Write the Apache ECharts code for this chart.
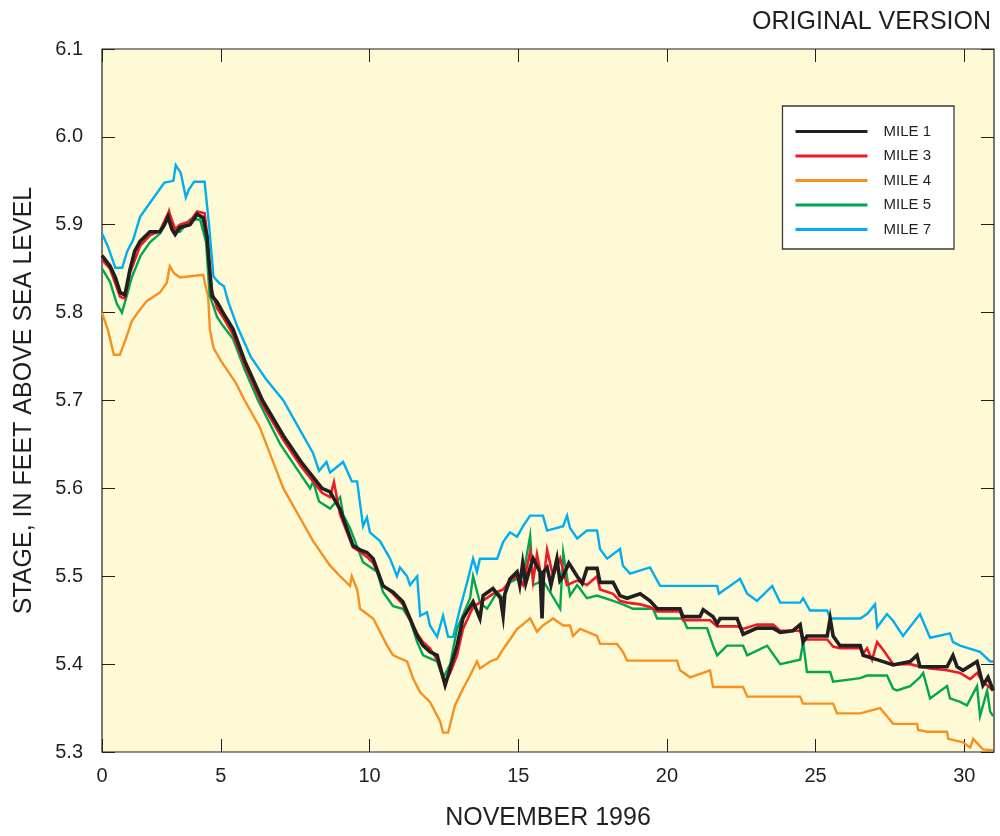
<!DOCTYPE html>
<html>
<head>
<meta charset="utf-8">
<script src="https://cdn.jsdelivr.net/npm/echarts@6/dist/echarts.min.js"></script>
<style>html,body{margin:0;padding:0;background:#fff;}#c{width:1000px;height:836px;}</style>
</head>
<body>
<div id="c"></div>
<script>
// x = day of November 1996 (left edge labelled "0"), y = stage in feet
var xTickValues = [1, 5, 10, 15, 20, 25, 30];
var xTickLabels = ['0', '5', '10', '15', '20', '25', '30'];
var seriesNames = ['MILE 1', 'MILE 3', 'MILE 4', 'MILE 5', 'MILE 7'];

var mile1 = [[1.00,5.865],[1.27,5.853],[1.45,5.84],[1.61,5.823],[1.77,5.82],[1.94,5.849],[2.10,5.870],[2.28,5.881],[2.61,5.892],[2.95,5.892],[3.10,5.900],[3.22,5.909],[3.35,5.895],[3.46,5.889],[3.62,5.897],[3.96,5.900],[4.20,5.912],[4.40,5.908],[4.53,5.887],[4.62,5.850],[4.70,5.819],[4.87,5.812],[5.07,5.800],[5.41,5.781],[5.80,5.745],[6.40,5.700],[7.10,5.660],[7.70,5.630],[8.40,5.600],[8.67,5.596],[9.01,5.576],[9.24,5.554],[9.44,5.535],[9.68,5.530],[9.91,5.527],[10.12,5.520],[10.45,5.489],[10.79,5.482],[11.12,5.471],[11.36,5.452],[11.60,5.432],[11.80,5.421],[12.03,5.414],[12.27,5.410],[12.54,5.376],[12.71,5.395],[12.94,5.421],[13.14,5.452],[13.48,5.471],[13.71,5.452],[13.82,5.478],[14.15,5.486],[14.40,5.475],[14.49,5.455],[14.55,5.480],[14.72,5.497],[14.96,5.505],[15.05,5.490],[15.15,5.515],[15.25,5.492],[15.40,5.510],[15.50,5.520],[15.73,5.505],[15.80,5.452],[15.85,5.505],[15.97,5.510],[16.10,5.490],[16.30,5.520],[16.40,5.495],[16.51,5.500],[16.70,5.515],[16.98,5.500],[17.15,5.492],[17.31,5.509],[17.65,5.509],[17.75,5.493],[18.19,5.493],[18.42,5.478],[18.66,5.475],[19.10,5.480],[19.43,5.472],[19.67,5.463],[20.44,5.463],[20.54,5.454],[21.11,5.454],[21.22,5.462],[21.55,5.454],[21.69,5.446],[21.79,5.452],[22.36,5.452],[22.56,5.434],[23.03,5.441],[23.57,5.441],[23.81,5.436],[24.24,5.438],[24.48,5.445],[24.58,5.425],[24.71,5.432],[25.39,5.432],[25.49,5.452],[25.59,5.432],[25.82,5.421],[26.50,5.421],[26.60,5.410],[27.17,5.404],[27.61,5.399],[28.18,5.403],[28.41,5.410],[28.51,5.397],[29.42,5.397],[29.62,5.410],[29.76,5.397],[29.96,5.393],[30.43,5.403],[30.63,5.376],[30.80,5.385],[30.97,5.370]];

var mile3 = [[1.00,5.860],[1.27,5.850],[1.61,5.818],[1.77,5.816],[1.94,5.845],[2.28,5.876],[2.61,5.888],[2.95,5.893],[3.25,5.915],[3.46,5.895],[3.62,5.900],[3.96,5.904],[4.20,5.915],[4.45,5.913],[4.53,5.890],[4.65,5.830],[4.87,5.805],[5.07,5.795],[5.41,5.775],[5.80,5.740],[6.40,5.695],[7.10,5.655],[7.70,5.625],[8.40,5.595],[8.67,5.590],[8.80,5.607],[9.01,5.570],[9.24,5.550],[9.44,5.533],[9.68,5.528],[9.91,5.522],[10.12,5.515],[10.45,5.490],[10.79,5.480],[11.12,5.468],[11.36,5.450],[11.60,5.435],[11.80,5.425],[12.03,5.418],[12.27,5.405],[12.54,5.380],[12.71,5.390],[12.94,5.410],[13.14,5.440],[13.48,5.465],[13.71,5.470],[14.15,5.480],[14.49,5.485],[14.72,5.495],[14.96,5.500],[15.16,5.490],[15.40,5.528],[15.50,5.495],[15.63,5.525],[15.83,5.490],[15.97,5.530],[16.17,5.500],[16.41,5.520],[16.64,5.490],[16.98,5.495],[17.31,5.490],[17.65,5.500],[17.75,5.485],[18.19,5.480],[18.42,5.472],[18.66,5.470],[19.10,5.468],[19.43,5.465],[19.67,5.460],[20.44,5.460],[20.54,5.450],[21.45,5.450],[21.69,5.443],[22.36,5.443],[22.56,5.440],[23.03,5.445],[23.57,5.445],[23.81,5.438],[24.48,5.438],[24.58,5.428],[25.39,5.428],[25.59,5.420],[25.82,5.418],[26.50,5.418],[26.60,5.412],[26.73,5.418],[26.90,5.405],[27.07,5.425],[27.30,5.415],[27.61,5.400],[28.18,5.400],[28.41,5.398],[28.85,5.395],[29.42,5.393],[29.86,5.390],[30.20,5.383],[30.43,5.390],[30.63,5.380],[30.97,5.370]];

var mile4 = [[1.00,5.800],[1.20,5.780],[1.40,5.752],[1.60,5.752],[1.80,5.770],[2.00,5.790],[2.20,5.800],[2.50,5.813],[2.95,5.823],[3.18,5.834],[3.28,5.853],[3.42,5.845],[3.62,5.840],[4.40,5.843],[4.57,5.818],[4.63,5.780],[4.75,5.760],[5.00,5.745],[5.50,5.720],[5.80,5.700],[6.30,5.670],[6.70,5.635],[7.10,5.600],[7.60,5.570],[8.10,5.540],[8.67,5.512],[9.01,5.500],[9.34,5.489],[9.40,5.500],[9.58,5.485],[9.68,5.463],[10.12,5.452],[10.35,5.437],[10.59,5.421],[10.79,5.410],[11.26,5.403],[11.46,5.384],[11.70,5.368],[12.03,5.357],[12.37,5.335],[12.47,5.322],[12.64,5.322],[12.87,5.353],[13.14,5.372],[13.38,5.387],[13.61,5.403],[13.71,5.395],[14.05,5.403],[14.29,5.406],[14.49,5.417],[14.72,5.428],[14.96,5.440],[15.40,5.452],[15.63,5.437],[15.83,5.444],[16.17,5.452],[16.51,5.444],[16.74,5.444],[16.84,5.432],[17.08,5.440],[17.65,5.432],[17.75,5.423],[18.32,5.423],[18.52,5.414],[18.66,5.404],[20.34,5.404],[20.44,5.393],[20.78,5.385],[21.45,5.393],[21.55,5.374],[22.56,5.374],[22.70,5.363],[24.48,5.363],[24.58,5.355],[25.59,5.355],[25.72,5.344],[26.50,5.344],[27.17,5.350],[27.61,5.332],[28.41,5.332],[28.45,5.325],[28.75,5.323],[29.42,5.323],[29.46,5.315],[29.96,5.311],[30.20,5.305],[30.30,5.315],[30.63,5.303],[30.97,5.302]];

var mile5 = [[1.00,5.850],[1.27,5.835],[1.50,5.810],[1.67,5.800],[1.80,5.815],[2.00,5.840],[2.30,5.865],[2.61,5.880],[2.95,5.890],[3.20,5.905],[3.26,5.915],[3.40,5.895],[3.62,5.892],[3.96,5.906],[4.30,5.906],[4.50,5.880],[4.62,5.820],[4.87,5.795],[5.07,5.785],[5.41,5.770],[5.80,5.735],[6.25,5.700],[7.00,5.650],[7.60,5.620],[8.00,5.600],[8.10,5.608],[8.30,5.585],[8.67,5.577],[9.01,5.590],[9.11,5.570],[9.34,5.555],[9.78,5.516],[10.25,5.505],[10.45,5.482],[10.79,5.466],[11.12,5.463],[11.36,5.450],[11.60,5.425],[11.80,5.410],[12.27,5.403],[12.47,5.384],[12.71,5.400],[12.94,5.440],[13.38,5.475],[13.48,5.500],[13.71,5.470],[13.95,5.463],[14.29,5.482],[14.49,5.475],[14.72,5.493],[14.96,5.497],[15.16,5.500],[15.40,5.546],[15.50,5.490],[15.83,5.495],[16.07,5.482],[16.41,5.463],[16.51,5.527],[16.74,5.478],[16.98,5.490],[17.31,5.475],[17.65,5.478],[18.19,5.472],[18.52,5.468],[18.86,5.463],[19.53,5.463],[19.67,5.452],[20.54,5.452],[20.68,5.441],[21.35,5.441],[21.55,5.421],[21.69,5.410],[22.02,5.421],[22.56,5.421],[22.70,5.410],[23.37,5.421],[23.81,5.400],[24.48,5.405],[24.58,5.425],[24.71,5.391],[25.49,5.391],[25.59,5.380],[26.50,5.384],[26.73,5.387],[27.40,5.387],[27.61,5.372],[27.74,5.370],[28.18,5.375],[28.51,5.385],[28.62,5.390],[28.85,5.361],[29.42,5.375],[29.52,5.361],[29.86,5.357],[30.09,5.353],[30.43,5.375],[30.53,5.341],[30.77,5.370],[30.87,5.346],[30.97,5.341]];

var mile7 = [[1.00,5.890],[1.20,5.875],[1.45,5.851],[1.68,5.851],[1.85,5.870],[2.05,5.883],[2.28,5.909],[2.70,5.929],[3.10,5.948],[3.40,5.950],[3.48,5.968],[3.65,5.959],[3.82,5.931],[3.92,5.940],[4.10,5.949],[4.45,5.949],[4.60,5.900],[4.75,5.841],[4.93,5.834],[5.10,5.830],[5.25,5.812],[5.54,5.785],[6.00,5.750],[6.50,5.725],[7.10,5.700],[7.60,5.670],[8.10,5.640],[8.30,5.620],[8.55,5.630],[8.67,5.618],[9.11,5.630],[9.40,5.608],[9.58,5.608],[9.78,5.557],[9.91,5.567],[10.01,5.550],[10.35,5.540],[10.52,5.530],[10.69,5.520],[10.92,5.500],[11.02,5.510],[11.26,5.500],[11.36,5.490],[11.60,5.500],[11.70,5.455],[11.93,5.459],[12.03,5.444],[12.27,5.431],[12.47,5.455],[12.64,5.431],[12.81,5.431],[13.04,5.463],[13.28,5.493],[13.48,5.520],[13.61,5.505],[13.71,5.520],[14.29,5.520],[14.49,5.539],[14.72,5.550],[14.96,5.545],[15.16,5.557],[15.40,5.569],[15.83,5.569],[15.97,5.552],[16.51,5.557],[16.64,5.569],[16.74,5.555],[16.98,5.543],[17.31,5.552],[17.65,5.552],[17.75,5.531],[17.99,5.520],[18.42,5.531],[18.52,5.512],[18.76,5.503],[19.43,5.510],[19.77,5.489],[21.69,5.489],[21.75,5.480],[22.46,5.497],[22.70,5.480],[23.03,5.472],[23.54,5.489],[23.81,5.470],[24.48,5.470],[24.58,5.475],[24.81,5.461],[25.39,5.461],[25.49,5.452],[26.50,5.452],[26.73,5.457],[27.00,5.468],[27.07,5.442],[27.40,5.457],[27.61,5.449],[27.94,5.432],[28.51,5.457],[28.85,5.430],[29.52,5.435],[29.62,5.425],[29.86,5.421],[30.53,5.414],[30.87,5.403],[30.97,5.403]];

var seriesData = [mile1, mile3, mile4, mile5, mile7];
var seriesColors = ['#231f20', '#ed1c24', '#f7901e', '#00a651', '#00aeef'];
var seriesWidths = [3.6, 2.6, 2.4, 2.4, 2.4];
var seriesZ = [10, 9, 6, 8, 5];

var FONT = '"Liberation Sans", Arial, Helvetica, sans-serif';
var TXT = '#231f20';

var chart = echarts.init(document.getElementById('c'), null, {renderer: 'canvas'});

var series = seriesNames.map(function (name, i) {
  return {
    name: name,
    type: 'line',
    data: seriesData[i],
    showSymbol: false,
    symbol: 'none',
    z: seriesZ[i],
    lineStyle: {color: seriesColors[i], width: seriesWidths[i], join: 'miter'},
    itemStyle: {color: seriesColors[i]},
    emphasis: {disabled: true}
  };
});

var tickStyle = {show: true, inside: true, length: 13, lineStyle: {color: TXT, width: 1}};

chart.setOption({
  animation: false,
  backgroundColor: '#ffffff',
  title: {
    text: 'ORIGINAL VERSION',
    right: 4, top: 5,
    textStyle: {fontFamily: FONT, fontSize: 25, fontWeight: 'normal', color: TXT}
  },
  grid: {
    left: 102, right: 6, top: 49, bottom: 83,
    show: true, backgroundColor: '#fffad6', borderColor: TXT, borderWidth: 1.2
  },
  legend: {
    data: seriesNames,
    orient: 'vertical',
    right: 46, top: 106,
    backgroundColor: '#ffffff',
    borderColor: '#3a3a3a', borderWidth: 1.3,
    padding: [18, 23, 12, 13],
    itemWidth: 72, itemHeight: 3, itemGap: 9.5,
    icon: 'rect',
    textStyle: {fontFamily: FONT, fontSize: 15, color: TXT, lineHeight: 15, padding: [0, 0, 0, 11]}
  },
  xAxis: [{
    type: 'value', min: 1, max: 31,
    name: 'NOVEMBER 1996', nameLocation: 'middle', nameGap: 54,
    nameTextStyle: {fontFamily: FONT, fontSize: 25, color: TXT},
    axisLine: {show: false},
    splitLine: {show: false},
    axisTick: Object.assign({customValues: xTickValues}, tickStyle),
    axisLabel: {
      customValues: xTickValues, margin: 14,
      fontFamily: FONT, fontSize: 20, color: TXT,
      formatter: function (v) { var i = xTickValues.indexOf(v); return i >= 0 ? xTickLabels[i] : ''; }
    }
  }, {
    type: 'value', min: 1, max: 31, position: 'top',
    axisLine: {show: false}, splitLine: {show: false},
    axisTick: Object.assign({customValues: xTickValues}, tickStyle),
    axisLabel: {show: false}
  }],
  yAxis: [{
    type: 'value', min: 5.3, max: 6.1, interval: 0.1,
    name: 'STAGE, IN FEET ABOVE SEA LEVEL', nameLocation: 'middle', nameGap: 65, nameRotate: 90,
    nameTextStyle: {fontFamily: FONT, fontSize: 25, color: TXT},
    axisLine: {show: false}, splitLine: {show: false},
    axisTick: tickStyle,
    axisLabel: {margin: 19, fontFamily: FONT, fontSize: 20, color: TXT,
      formatter: function (v) { return v.toFixed(1); }}
  }, {
    type: 'value', min: 5.3, max: 6.1, interval: 0.1, position: 'right',
    axisLine: {show: false}, splitLine: {show: false},
    axisTick: tickStyle,
    axisLabel: {show: false}
  }],
  series: series
});
</script>
</body>
</html>
